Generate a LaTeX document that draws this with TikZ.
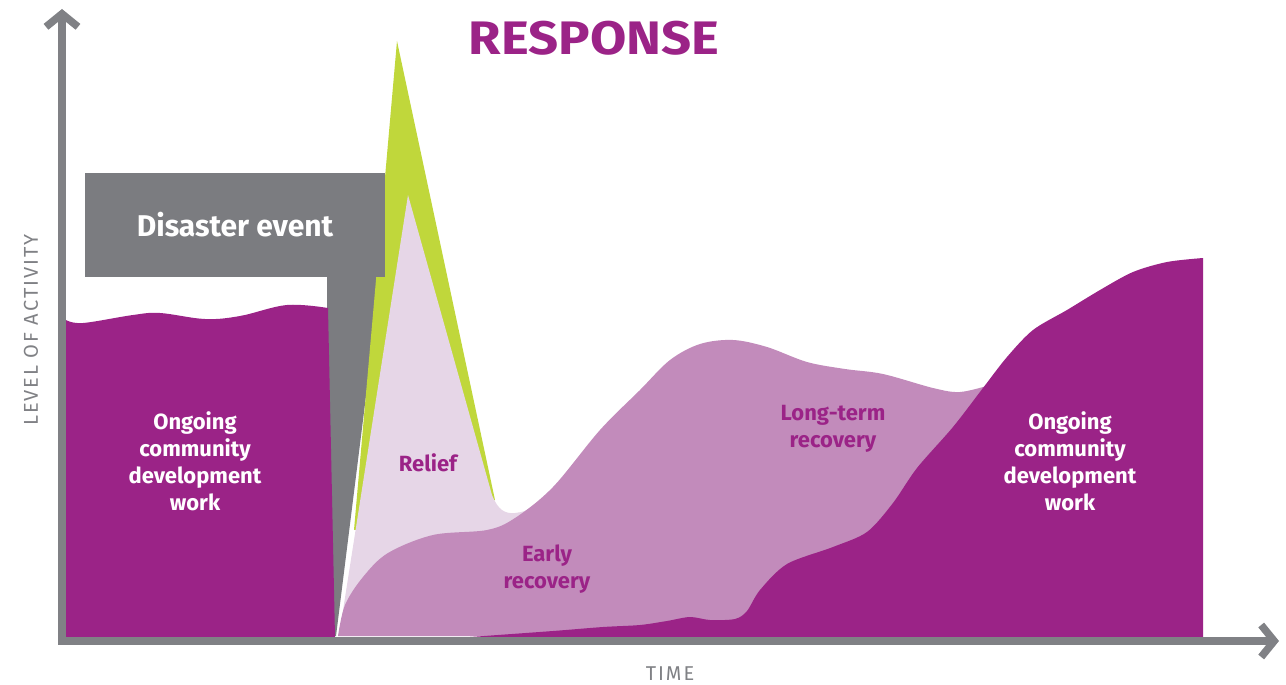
\documentclass[tikz,border=0pt]{standalone}
\usepackage{fontspec}
\setmainfont{Fira Sans}
\newfontfamily\headfont{Fira Sans}[FakeStretch=1.12]
\newfontfamily\axisfont{Fira Sans}[LetterSpace=10]
\usetikzlibrary{arrows.meta,positioning}
\definecolor{cdpurple}{HTML}{9B2387}
\definecolor{recmauve}{HTML}{C28BBB}
\definecolor{reliefpink}{HTML}{E6D6E7}
\definecolor{spikegreen}{HTML}{C0D73B}
\definecolor{eventgray}{HTML}{7B7C80}
\definecolor{axisgray}{HTML}{808185}

\begin{document}
\begin{tikzpicture}[
  x=1pt, y=-1pt,
  axis/.style   = {draw=axisgray, line width=7.5pt, line join=miter,
                   {Straight Barb[length=13pt, width=32pt]}-{Straight Barb[length=13pt, width=32pt]}},
  event/.style  = {fill=eventgray, text=white, minimum width=300pt, minimum height=104pt,
                   inner sep=0pt, font=\fontsize{30}{34}\selectfont\bfseries},
  cdlbl/.style  = {text=white, align=center, font=\fontsize{22}{27}\selectfont\bfseries},
  reclbl/.style = {text=cdpurple, align=center, font=\fontsize{22}{27}\selectfont\bfseries},
  title/.style  = {text=cdpurple, font=\headfont\fontsize{47}{50}\selectfont\bfseries},
  axlbl/.style  = {text=axisgray, font=\axisfont\fontsize{20}{22}\selectfont},
]
\useasboundingbox (0,0) rectangle (1286,685);

% --- the disaster event: stem, then the spike of the response ------------------------------------
\fill[eventgray] (327,276) -- (381,276) -- (336,636) -- (327,636) -- cycle;
\fill[spikegreen] (397,41) -- (495,500) -- (430,520) -- (354,530) -- cycle;
\fill[reliefpink] (339,636) -- (408,195) -- (492,495)
  .. controls (498,510) and (505,514) .. (515,513)
  .. controls (530,512) and (545,500) .. (560,485) -- (560,636) -- cycle;
\node[event] (event) at (235,225) {Disaster event};

% --- recovery, early and long-term ----------------------------------------------------------------
\fill[recmauve] plot[smooth, tension=0.55] coordinates {
  (338,636) (345,605) (363,577) (388,553) (433,535) (487,530) (515,518) (553,487)
  (600,430) (640,390) (670,360) (700,344) (733,340) (767,347) (807,362) (845,369)
  (883,374) (933,388) (960,392) (990,385)} -- (1000,637) -- cycle;

% --- ongoing community development work, before and after ----------------------------------------
\fill[cdpurple] (335,637) -- (66,637) -- plot[smooth, tension=0.6] coordinates {
  (66,320) (83,323) (133,315) (160,313) (205,319) (240,316) (287,305) (328,308)}
  -- cycle;
\fill[cdpurple] plot[smooth, tension=0.5] coordinates {
  (470,637) (553,631) (603,627) (640,625) (667,621) (690,617) (710,620) (735,619)
  (747,611) (760,590) (787,564) (833,547) (867,532) (893,503) (917,468) (953,427)
  (983,388) (1007,357) (1033,330) (1067,310) (1100,290) (1133,272) (1167,262) (1203,258)}
  -- (1203,637) -- cycle;

% --- labels ---------------------------------------------------------------------------------------
\node[title] (response) at (594,38) {RESPONSE};
\node[cdlbl] (cdbefore) at (195,461) {Ongoing\\community\\development\\work};
\node[cdlbl] (cdafter) at (1070,461) {Ongoing\\community\\development\\work};
\node[reclbl] (relief) at (428,463) {Relief};
\node[reclbl] (early) at (547,569) {Early\\recovery};
\node[reclbl] (longterm) at (833,429) {Long-term\\recovery};

% --- axes -----------------------------------------------------------------------------------------
\coordinate (origin) at (62,641);
\coordinate (ytop) at (62,9);
\coordinate (xend) at (1279,641);
\draw[axis] (ytop) -- (origin) -- (xend);
\node[axlbl, rotate=90] (ylbl) at (31,330) {LEVEL OF ACTIVITY};
\node[axlbl] (xlbl) at (670,674) {TIME};

\end{tikzpicture}
\end{document}
